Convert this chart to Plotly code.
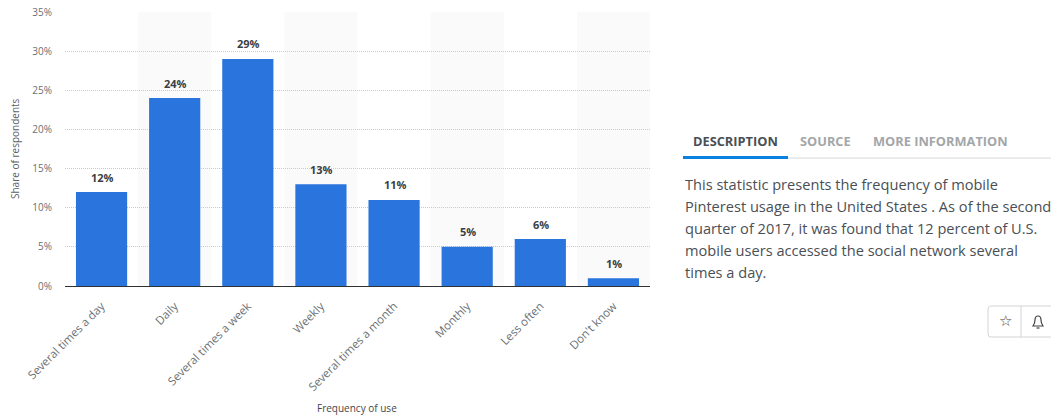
import plotly.graph_objects as go

W, H = 1051, 417

categories = ["Several times a day", "Daily", "Several times a week", "Weekly",
              "Several times a month", "Monthly", "Less often", "Don't know"]
shares = [12, 24, 29, 13, 11, 5, 6, 1]
y_ticks = [0, 5, 10, 15, 20, 25, 30, 35]
y_tick_labels = [f"{v}%" for v in y_ticks]

description_lines = [
    "This statistic presents the frequency of mobile",
    "Pinterest usage in the United States . As of the second",
    "quarter of 2017, it was found that 12 percent of U.S.",
    "mobile users accessed the social network several",
    "times a day.",
]
line_tops = [185, 207, 229, 251, 273]
tabs = [("DESCRIPTION", 691, "#4a4f55"), ("SOURCE", 798, "#a3a6a9"), ("MORE INFORMATION", 871, "#a3a6a9")]

PLOT_LEFT, PLOT_RIGHT, PLOT_TOP, PLOT_BOTTOM = 65, 650, 12, 286
FONT = "Open Sans"


def px(x):
    return x / W


def py(y):
    return 1 - y / H


fig = go.Figure(go.Bar(
    x=list(range(len(categories))),
    y=shares,
    width=0.7,
    marker=dict(color="#2975dd", line=dict(width=0)),
    hoverinfo="skip",
))

shapes = []
# Alternate category bands behind the bars
for i in range(1, len(categories), 2):
    shapes.append(dict(type="rect", layer="below", xref="x", yref="paper",
                       x0=i - 0.5, x1=i + 0.5, y0=py(PLOT_BOTTOM), y1=py(PLOT_TOP),
                       fillcolor="#fafafa", line_width=0))

# Tab underline: grey rule with the active segment over it
shapes.append(dict(type="line", xref="paper", yref="paper", x0=px(683), x1=px(1051),
                   y0=py(158), y1=py(158), line=dict(color="#d6d8da", width=1)))
shapes.append(dict(type="rect", xref="paper", yref="paper", x0=px(683), x1=px(788),
                   y0=py(159), y1=py(156), fillcolor="#0a80df", line_width=0))

# Button group, running off the right edge
shapes.append(dict(type="path", xref="paper", yref="paper",
                   path=f"M {px(1060)} {py(306)} L {px(991)} {py(306)} Q {px(988)} {py(306)} {px(988)} {py(309)} "
                        f"L {px(988)} {py(334)} Q {px(988)} {py(337)} {px(991)} {py(337)} L {px(1060)} {py(337)}",
                   line=dict(color="#d2d4d6", width=1)))
shapes.append(dict(type="line", xref="paper", yref="paper", x0=px(1021), x1=px(1021),
                   y0=py(306), y1=py(337), line=dict(color="#d2d4d6", width=1)))
# Bell icon
shapes.append(dict(type="path", xref="paper", yref="paper",
                   path=f"M {px(1033)} {py(326)} Q {px(1035)} {py(323)} {px(1035)} {py(320)} "
                        f"Q {px(1035)} {py(316)} {px(1038)} {py(316)} Q {px(1041)} {py(316)} {px(1041)} {py(320)} "
                        f"Q {px(1041)} {py(323)} {px(1043)} {py(326)} Z",
                   line=dict(color="#3f4347", width=1.2)))
shapes.append(dict(type="line", xref="paper", yref="paper", x0=px(1036.5), x1=px(1039.5),
                   y0=py(328), y1=py(328), line=dict(color="#3f4347", width=1.2)))

annotations = [
    dict(text="Share of respondents", x=px(15), y=py(149), textangle=-90, showarrow=False,
         font=dict(family=FONT, size=10, color="#5c6066"), xref="paper", yref="paper",
         xanchor="center", yanchor="middle"),
    dict(text="Frequency of use", x=px(357), y=py(408), showarrow=False,
         font=dict(family=FONT, size=10, color="#43474c"), xref="paper", yref="paper",
         xanchor="center", yanchor="middle"),
    dict(text="☆", x=px(1005), y=py(321), showarrow=False, xref="paper", yref="paper",
         font=dict(family="DejaVu Sans", size=15, color="#3f4347"), xanchor="center", yanchor="middle"),
]
# Value labels sit a fixed distance above each bar
for i, v in enumerate(shares):
    annotations.append(dict(text=f"<b>{v}%</b>", x=i, y=v, xref="x", yref="y", xshift=1, yshift=15,
                            showarrow=False, xanchor="center", yanchor="middle",
                            font=dict(family=FONT, size=11, color="#3b3f44")))
for label, left, colour in tabs:
    annotations.append(dict(text=f"<b>{label}</b>", x=px(left), y=py(141), showarrow=False,
                            xref="paper", yref="paper", xanchor="left", yanchor="middle",
                            font=dict(family=FONT, size=12.8, color=colour)))
for line, top in zip(description_lines, line_tops):
    annotations.append(dict(text=line, x=px(683), y=py(top - 1), showarrow=False,
                            xref="paper", yref="paper", xanchor="left", yanchor="middle",
                            font=dict(family=FONT, size=14.6, color="#4a4f55")))

fig.update_layout(
    width=W, height=H,
    margin=dict(l=0, r=0, t=0, b=0),
    paper_bgcolor="white",
    plot_bgcolor="rgba(0,0,0,0)",
    showlegend=False,
    shapes=shapes,
    annotations=annotations,
    font=dict(family=FONT),
    xaxis=dict(
        domain=[px(PLOT_LEFT), px(PLOT_RIGHT)],
        range=[-0.5, len(categories) - 0.5],
        automargin=False,
        tickmode="array",
        tickvals=list(range(len(categories))),
        ticktext=categories,
        tickangle=-45,
        ticks="",
        ticklabelstandoff=8,
        showgrid=False,
        zeroline=False,
        showline=True,
        linecolor="#2f3235",
        linewidth=1,
        tickfont=dict(family=FONT, size=11.5, color="#6b6f74"),
    ),
    yaxis=dict(
        domain=[py(PLOT_BOTTOM), py(PLOT_TOP)],
        range=[0, 35],
        automargin=False,
        tickmode="array",
        tickvals=y_ticks,
        ticktext=y_tick_labels,
        ticks="",
        ticklabelstandoff=12,
        showgrid=True,
        gridcolor="#c9cbcd",
        griddash="1px,1px",
        gridwidth=1,
        zeroline=False,
        showline=False,
        tickfont=dict(family=FONT, size=10, color="#6b6f74"),
    ),
)

fig.write_html("out.html", config=dict(displayModeBar=False))
